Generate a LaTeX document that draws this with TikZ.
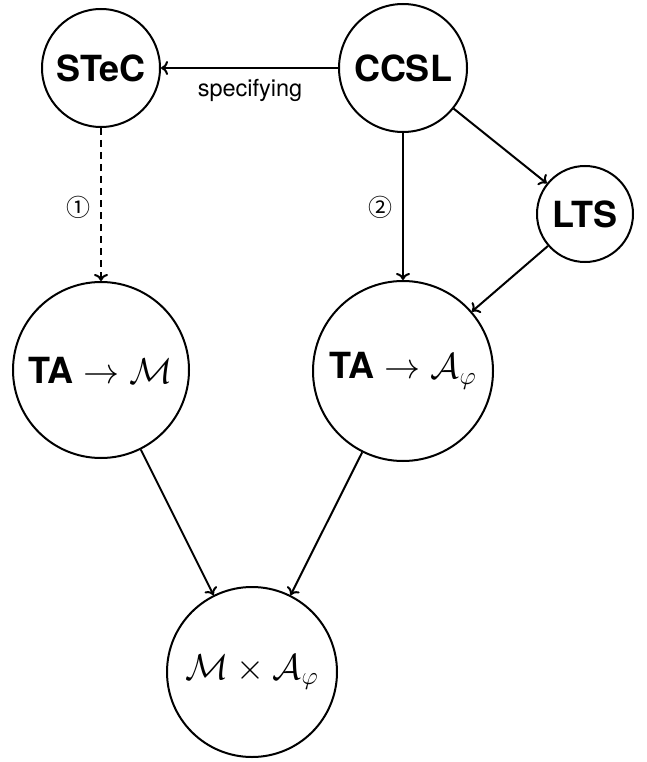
\RequirePackage{fix-cm}
\documentclass[tikz,border=0pt]{standalone}
\usepackage{fontspec}
\setmainfont{TeX Gyre Heros}
\newfontfamily\symfont{Noto Sans CJK SC}
\usetikzlibrary{arrows.meta}
\begin{document}
\begin{tikzpicture}[x=1pt,y=-1pt,
  state/.style={circle,draw,line width=2pt,inner sep=0pt,font=\fontsize{36}{42}\selectfont\bfseries},
  conn/.style={line width=2pt,-{To[length=7pt,width=14pt]}},
  lbl/.style={font=\fontsize{23.5}{28}\selectfont},
  num/.style={font=\fontsize{24}{30}\symfont}]
\useasboundingbox (0,0) rectangle (646,762);
\node[state,minimum size=118pt] (stec) at (101,68) {STeC};
\node[state,minimum size=128pt] (ccsl) at (403,68) {CCSL};
\node[state,minimum size=96pt] (lts) at (585,214) {LTS};
\node[state,minimum size=176pt] (tam) at (101,370) {TA $\to \mathcal{M}$};
\node[state,minimum size=180pt] (taa) at (403,371) {TA $\to \mathcal{A}_\varphi$};
\node[state,minimum size=170pt,font=\fontsize{36}{42}\selectfont] (prod) at (252,672) {$\mathcal{M}\times\mathcal{A}_\varphi$};
\draw[conn] (ccsl) -- (stec);
\node[lbl,anchor=base] (spec) at (250,97) {specifying};
\draw[conn,dash pattern=on 7pt off 5pt] (stec) -- (tam);
\node[num] (one) at (78,207) {①};
\draw[conn] (ccsl) -- (taa);
\node[num] (two) at (380,207) {②};
\draw[conn] (ccsl) -- (lts);
\draw[conn] (lts) -- (taa);
\draw[conn] (tam) -- (prod);
\draw[conn] (taa) -- (prod);
\end{tikzpicture}
\end{document}
